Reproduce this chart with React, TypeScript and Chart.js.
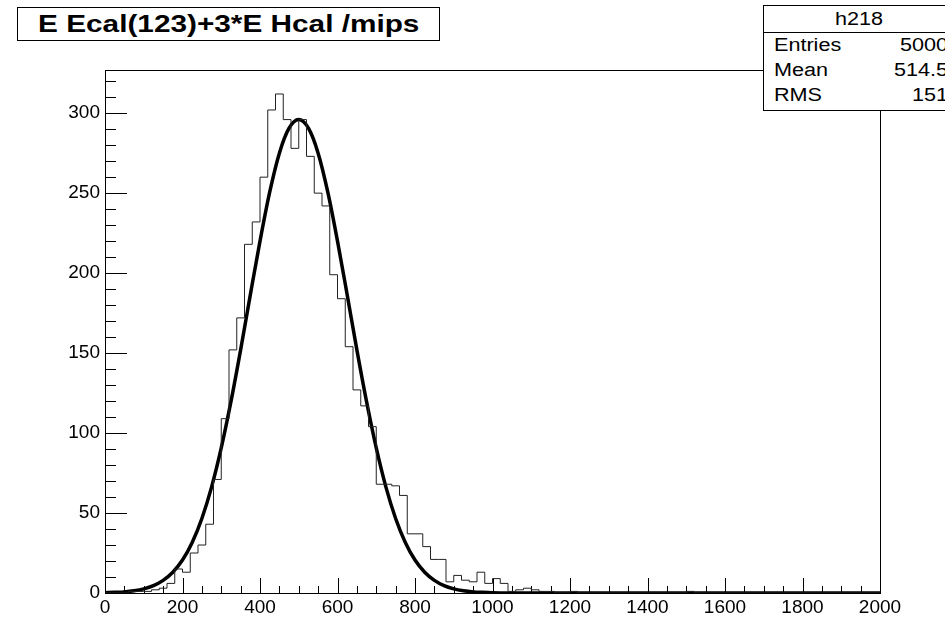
import React, { useEffect, useRef } from "react";
import { Chart, registerables } from "chart.js";

Chart.register(...registerables);

// ---- data ----
const BIN_LOW = 0;
const BIN_WIDTH = 20;
const binCounts = [
  0, 0, 0, 1, 1, 1, 2, 3, 6, 15,
  13, 25, 30, 43, 71, 109, 152, 172, 218, 232,
  260, 302, 312, 296, 278, 296, 273, 250, 242, 199,
  184, 154, 127, 117, 104, 68, 68, 67, 61, 37,
  37, 29, 21, 21, 7, 11, 8, 7, 13, 6,
  9, 6, 1, 2, 3, 2, 1, 1, 0, 0,
  1, 0, 0, 0, 0, 0, 0, 0, 0, 0,
  0, 0, 0, 0, 0, 1, 0, 0, 0, 0,
  0, 0, 0, 0, 0, 0, 0, 0, 0, 0,
  0, 0, 0, 0, 0, 0, 0, 0, 0, 0,
];
const fitX = [
  0, 25, 50, 75, 100, 125, 150, 175, 200, 225, 250, 275, 300, 325, 350, 375,
  400, 425, 450, 475, 500, 525, 550, 575, 600, 625, 650, 675, 700, 725, 750,
  775, 800, 825, 850, 875, 900, 925, 950, 975, 1000, 1100, 1200, 1500, 2000,
];
const fitY = [
  0.2, 0.4, 0.7, 1.4, 2.6, 4.6, 7.9, 13, 20.6, 31.6, 46.6, 66.2, 90.7, 119.6,
  152, 186.4, 220, 250.6, 275, 290.6, 296, 290.6, 275, 250.6, 220, 186.4, 152,
  119.6, 90.7, 66.2, 46.6, 31.6, 20.6, 13, 7.9, 4.6, 2.6, 1.4, 0.7, 0.4, 0.2,
  0, 0, 0, 0,
];
const xTickValues = [0, 200, 400, 600, 800, 1000, 1200, 1400, 1600, 1800, 2000];
const yTickValues = [0, 50, 100, 150, 200, 250, 300];
const X_MIN = 0;
const X_MAX = 2000;
const Y_MAX = 327;
const X_MINOR_STEP = 50;
const Y_MINOR_STEP = 10;

const titleText = "E Ecal(123)+3*E Hcal /mips";
const statsName = "h218";
const statsLabels = ["Entries", "Mean", "RMS"];
const statsValues = ["5000", "514.5", "151"];

const FONT = "'Liberation Sans', Arial, Helvetica, sans-serif";

export default function App() {
  const ref = useRef<HTMLCanvasElement>(null);

  useEffect(() => {
    document.body.style.margin = "0";
    const canvas = ref.current;
    if (!canvas) return;

    const histPts = binCounts.map((v, i) => ({ x: BIN_LOW + i * BIN_WIDTH, y: v }));
    histPts.push({
      x: BIN_LOW + binCounts.length * BIN_WIDTH,
      y: binCounts[binCounts.length - 1],
    });
    const fitPts = fitX.map((x, i) => ({ x, y: fitY[i] }));

    const framePlugin = {
      id: "rootFrame",
      beforeDatasetsDraw(chart: any) {
        const { ctx, chartArea: a, scales } = chart;
        ctx.save();
        ctx.strokeStyle = "#000";
        ctx.lineWidth = 1;
        ctx.strokeRect(a.left + 0.5, a.top + 0.5, a.right - a.left, a.bottom - a.top);
        ctx.beginPath();
        for (let v = X_MIN; v <= X_MAX + 1e-6; v += X_MINOR_STEP) {
          const px = Math.round(scales.x.getPixelForValue(v)) + 0.5;
          const major = xTickValues.includes(v);
          const len = major ? 15 : 7;
          ctx.moveTo(px, a.bottom);
          ctx.lineTo(px, a.bottom - len);
        }
        for (let v = 0; v <= Y_MAX; v += Y_MINOR_STEP) {
          const py = Math.round(scales.y.getPixelForValue(v)) + 0.5;
          const major = yTickValues.includes(v);
          const len = major ? 22 : 11;
          ctx.moveTo(a.left, py);
          ctx.lineTo(a.left + len, py);
        }
        ctx.stroke();
        ctx.restore();
      },
    };

    const chart = new Chart(canvas, {
      type: "line",
      data: {
        datasets: [
          {
            data: histPts,
            stepped: "before",
            borderColor: "#222",
            borderWidth: 1,
            pointRadius: 0,
            fill: false,
          },
          {
            data: fitPts,
            borderColor: "#000",
            borderWidth: 3.5,
            pointRadius: 0,
            cubicInterpolationMode: "monotone",
            fill: false,
          },
        ],
      },
      options: {
        animation: false,
        responsive: false,
        devicePixelRatio: 1,
        parsing: false,
        layout: { padding: { top: 70, right: 65, left: 0, bottom: 0 } },
        plugins: {
          legend: { display: false },
          tooltip: { enabled: false },
          title: { display: false },
        },
        scales: {
          x: {
            type: "linear",
            min: X_MIN,
            max: X_MAX,
            grid: { display: false, drawTicks: false },
            border: { display: false },
            afterBuildTicks: (s: any) => {
              s.ticks = xTickValues.map((v) => ({ value: v }));
            },
            afterFit: (s: any) => {
              s.height = 28;
            },
            ticks: {
              autoSkip: false,
              maxRotation: 0,
              padding: 3,
              color: "#000",
              font: { family: FONT, size: 19 },
              callback: (v: any) => String(v),
            },
          },
          y: {
            type: "linear",
            min: 0,
            max: Y_MAX,
            grid: { display: false, drawTicks: false },
            border: { display: false },
            afterBuildTicks: (s: any) => {
              s.ticks = yTickValues.map((v) => ({ value: v }));
            },
            afterFit: (s: any) => {
              s.width = 105;
            },
            ticks: {
              padding: 5,
              color: "#000",
              font: { family: FONT, size: 19 },
              callback: (v: any) => String(v),
            },
          },
        },
      },
      plugins: [framePlugin],
    } as any);

    return () => chart.destroy();
  }, []);

  const stretch = (s: number): React.CSSProperties => ({
    display: "inline-block",
    transform: `scaleX(${s})`,
  });

  return (
    <div
      style={{
        position: "relative",
        width: 945,
        height: 621,
        overflow: "hidden",
        background: "#fff",
        fontFamily: FONT,
      }}
    >
      <canvas
        ref={ref}
        width={945}
        height={621}
        style={{ position: "absolute", left: 0, top: 0, width: 945, height: 621 }}
      />
      <div
        style={{
          position: "absolute",
          left: 17,
          top: 7,
          width: 421,
          height: 32,
          border: "1px solid #000",
          background: "#fff",
          fontWeight: "bold",
          fontSize: 24,
          lineHeight: "32px",
          textAlign: "center",
          whiteSpace: "nowrap",
          color: "#000",
        }}
      >
        <span style={{ ...stretch(1.24), transformOrigin: "50% 50%" }}>{titleText}</span>
      </div>
      <div
        style={{
          position: "absolute",
          left: 763,
          top: 5,
          width: 200,
          height: 104,
          border: "1px solid #000",
          background: "#fff",
          color: "#000",
          fontSize: 18,
        }}
      >
        <div
          style={{
            position: "relative",
            height: 26,
            lineHeight: "26px",
            borderBottom: "1px solid #000",
          }}
        >
          <span
            style={{
              position: "absolute",
              left: 95,
              transform: "translateX(-50%) scaleX(1.2)",
            }}
          >
            {statsName}
          </span>
        </div>
        {statsLabels.map((lab, i) => (
          <div
            key={lab}
            style={{
              position: "relative",
              height: 25,
              lineHeight: "25px",
            }}
          >
            <span
              style={{
                position: "absolute",
                left: 10,
                transform: "scaleX(1.2)",
                transformOrigin: "0 50%",
              }}
            >
              {lab}
            </span>
            <span
              style={{
                position: "absolute",
                right: 16,
                transform: "scaleX(1.2)",
                transformOrigin: "100% 50%",
              }}
            >
              {statsValues[i]}
            </span>
          </div>
        ))}
      </div>
    </div>
  );
}
